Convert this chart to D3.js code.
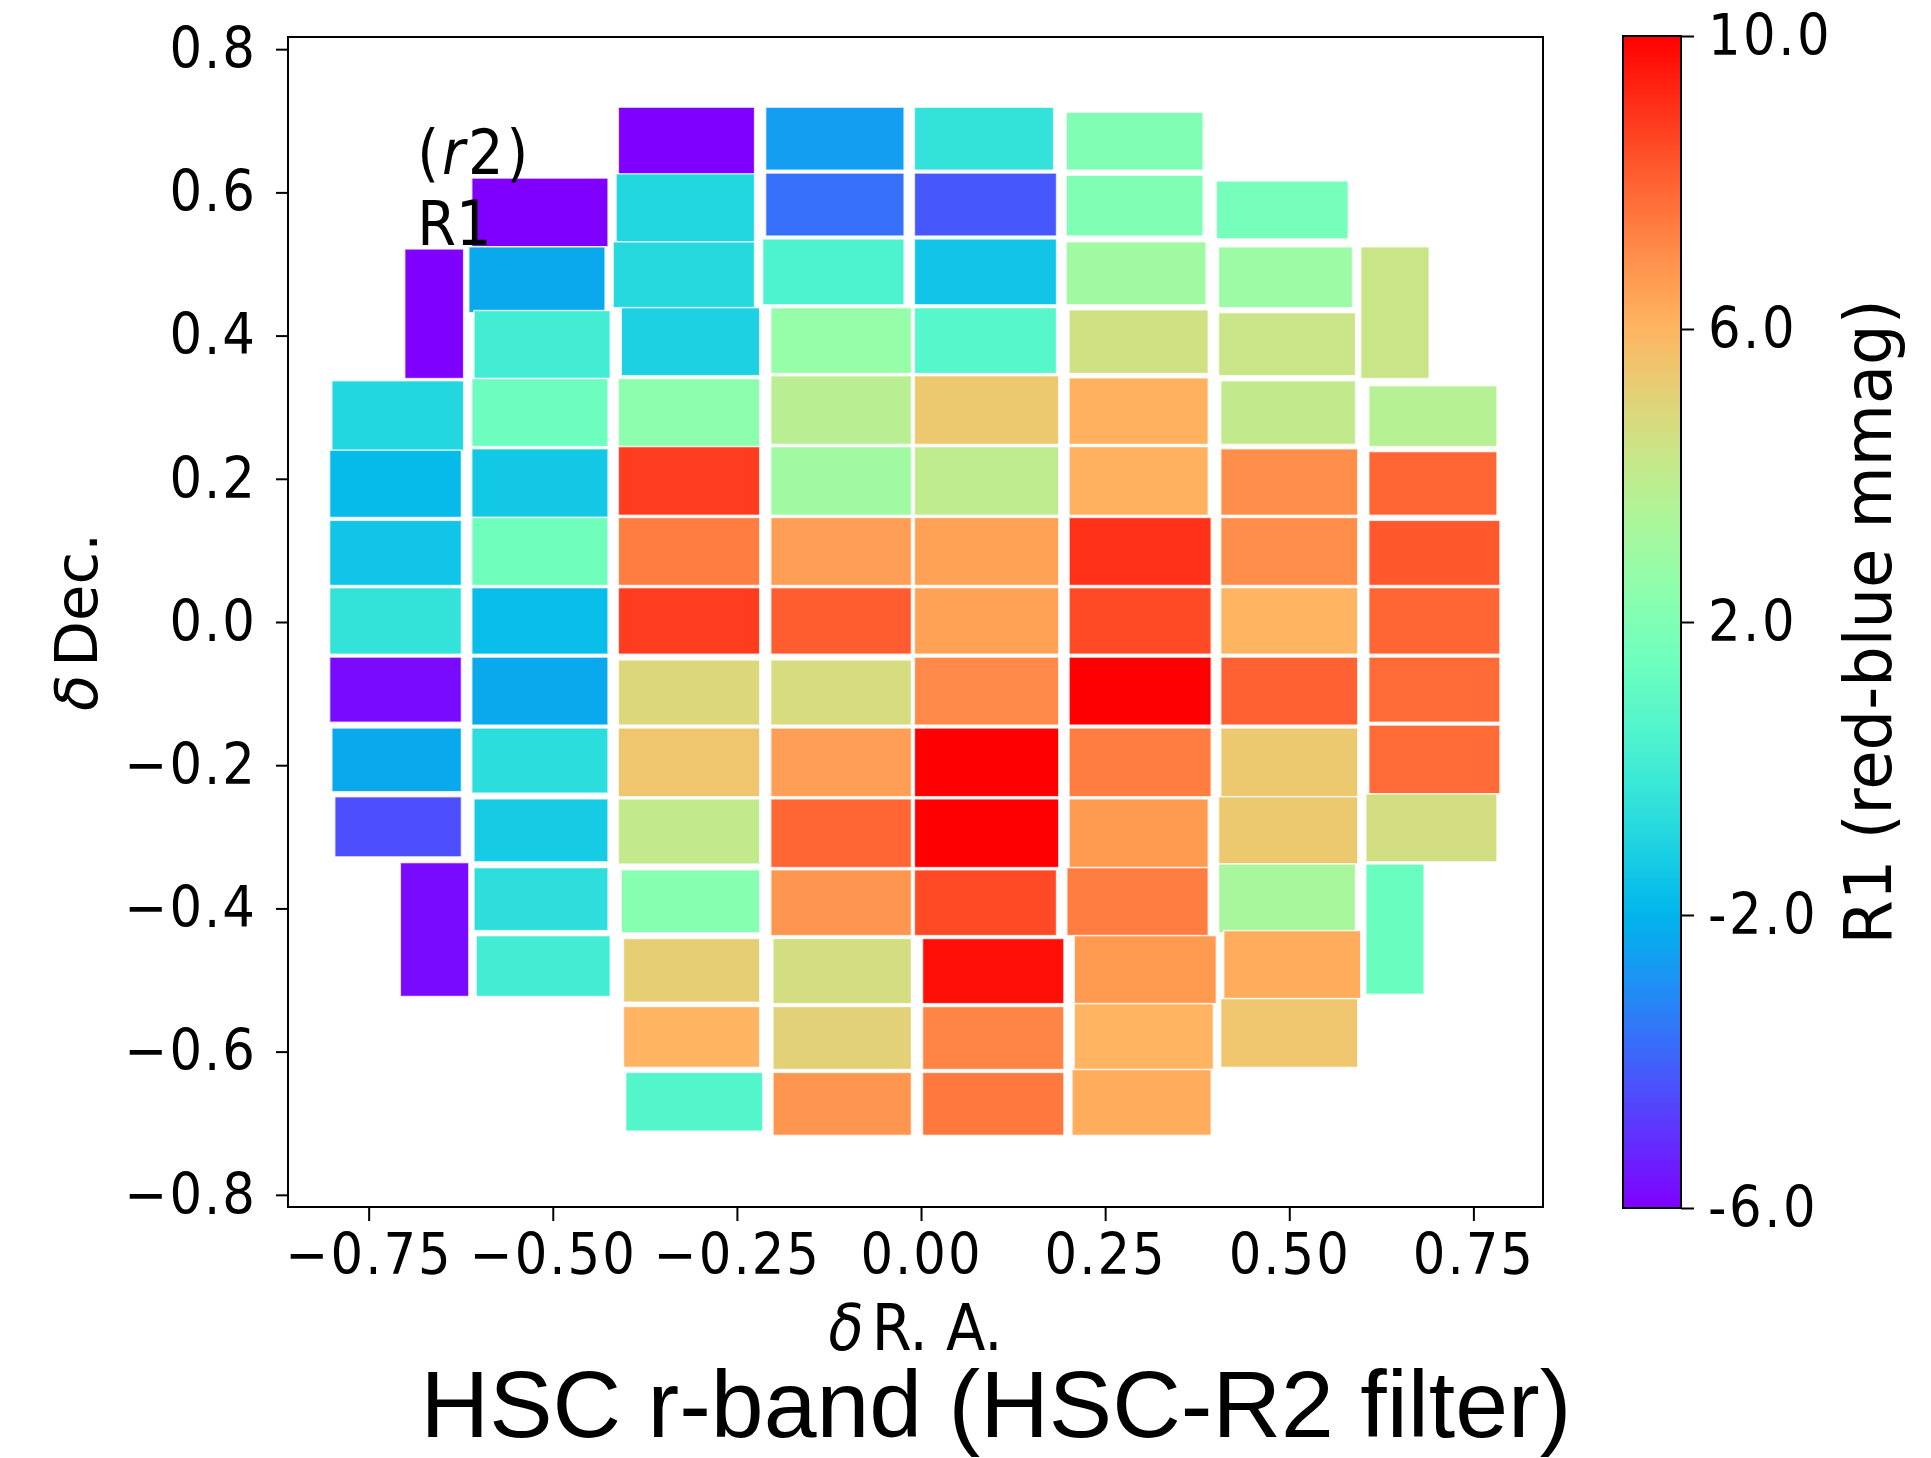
<!DOCTYPE html>
<html>
<head>
<meta charset="utf-8">
<script src="https://cdn.jsdelivr.net/npm/d3@7"></script>
<style>
  html, body { margin: 0; padding: 0; background: #fff; }
  svg { display: block; }
  .tick text, .lbl { font-family: "DejaVu Sans Condensed", "DejaVu Sans", sans-serif; font-stretch: condensed; fill: #000; }
</style>
</head>
<body>
<svg id="chart" width="1931" height="1458"></svg>
<script>
// CCD footprints (delta R.A. / delta Dec., degrees) and R1 colour term (mmag),
// listed column by column from east to west, top to bottom.
const raMin = [
  -0.701, -0.800, -0.803, -0.803, -0.803, -0.803, -0.800, -0.796, -0.707,
  -0.610, -0.614, -0.607, -0.610, -0.610, -0.610, -0.610, -0.610, -0.610, -0.607, -0.607, -0.604,
  -0.411, -0.414, -0.418, -0.407, -0.411, -0.411, -0.411, -0.411, -0.411, -0.411, -0.411, -0.407, -0.404, -0.404, -0.401,
  -0.211, -0.211, -0.215, -0.204, -0.204, -0.204, -0.204, -0.204, -0.204, -0.204, -0.204, -0.204, -0.201, -0.201, -0.201,
  -0.009, -0.009, -0.009, -0.009, -0.009, -0.009, -0.009, -0.009, -0.009, -0.009, -0.009, -0.009, 0.002, 0.002, 0.002,
  0.197, 0.197, 0.197, 0.201, 0.201, 0.201, 0.201, 0.201, 0.201, 0.201, 0.201, 0.198, 0.208, 0.208, 0.205,
  0.401, 0.404, 0.404, 0.407, 0.407, 0.407, 0.407, 0.407, 0.407, 0.404, 0.404, 0.411, 0.407,
  0.597, 0.608, 0.608, 0.608, 0.608, 0.608, 0.608, 0.604, 0.604
];
const raMax = [
  -0.621, -0.621, -0.624, -0.624, -0.624, -0.624, -0.624, -0.624, -0.614,
  -0.425, -0.429, -0.422, -0.425, -0.425, -0.425, -0.425, -0.425, -0.425, -0.425, -0.425, -0.422,
  -0.226, -0.226, -0.226, -0.219, -0.219, -0.219, -0.219, -0.219, -0.219, -0.219, -0.219, -0.219, -0.219, -0.219, -0.215,
  -0.023, -0.023, -0.023, -0.013, -0.013, -0.013, -0.013, -0.013, -0.013, -0.013, -0.013, -0.013, -0.013, -0.013, -0.013,
  0.180, 0.184, 0.184, 0.184, 0.187, 0.187, 0.187, 0.187, 0.187, 0.187, 0.187, 0.184, 0.194, 0.194, 0.194,
  0.383, 0.383, 0.387, 0.390, 0.390, 0.390, 0.394, 0.394, 0.394, 0.394, 0.390, 0.390, 0.401, 0.397, 0.394,
  0.580, 0.586, 0.590, 0.590, 0.593, 0.593, 0.593, 0.593, 0.593, 0.593, 0.590, 0.597, 0.593,
  0.690, 0.782, 0.782, 0.786, 0.786, 0.786, 0.786, 0.782, 0.683
];
const decMin = [
  0.340, 0.239, 0.146, 0.051, -0.045, -0.140, -0.237, -0.328, -0.523,
  0.524, 0.432, 0.340, 0.245, 0.146, 0.051, -0.045, -0.144, -0.239, -0.335, -0.431, -0.523,
  0.624, 0.531, 0.439, 0.344, 0.245, 0.149, 0.051, -0.045, -0.144, -0.244, -0.338, -0.434, -0.531, -0.622, -0.711,
  0.631, 0.539, 0.443, 0.347, 0.248, 0.149, 0.051, -0.045, -0.144, -0.244, -0.343, -0.438, -0.533, -0.625, -0.717,
  0.631, 0.539, 0.443, 0.347, 0.248, 0.149, 0.051, -0.045, -0.144, -0.244, -0.343, -0.438, -0.533, -0.625, -0.717,
  0.631, 0.539, 0.443, 0.347, 0.248, 0.149, 0.051, -0.045, -0.144, -0.244, -0.343, -0.438, -0.533, -0.625, -0.717,
  0.535, 0.439, 0.344, 0.248, 0.149, 0.051, -0.045, -0.144, -0.244, -0.338, -0.434, -0.526, -0.622,
  0.340, 0.245, 0.149, 0.051, -0.045, -0.140, -0.240, -0.335, -0.520
];
const decMax = [
  0.521, 0.337, 0.240, 0.142, 0.048, -0.049, -0.148, -0.244, -0.336,
  0.620, 0.524, 0.435, 0.340, 0.242, 0.146, 0.048, -0.049, -0.148, -0.247, -0.343, -0.438,
  0.719, 0.626, 0.531, 0.439, 0.340, 0.245, 0.146, 0.048, -0.053, -0.148, -0.247, -0.346, -0.442, -0.537, -0.629,
  0.719, 0.627, 0.535, 0.439, 0.344, 0.245, 0.146, 0.048, -0.053, -0.148, -0.247, -0.346, -0.442, -0.537, -0.629,
  0.719, 0.627, 0.535, 0.439, 0.344, 0.245, 0.146, 0.048, -0.049, -0.148, -0.247, -0.346, -0.442, -0.537, -0.629,
  0.712, 0.624, 0.531, 0.436, 0.341, 0.245, 0.146, 0.048, -0.049, -0.148, -0.247, -0.343, -0.438, -0.533, -0.625,
  0.616, 0.524, 0.432, 0.337, 0.242, 0.146, 0.048, -0.049, -0.148, -0.244, -0.338, -0.431, -0.526,
  0.524, 0.330, 0.238, 0.142, 0.048, -0.049, -0.144, -0.240, -0.338
];
const r1Value = [
  -6.0, -0.9, -1.8, -1.5, -0.4, -5.8, -2.3, -4.4, -5.8,
  -6.0, -2.3, 0.1, 1.4, -1.4, 1.5, -1.75, -2.3, -0.65, -1.3, -0.6, 0.1,
  -6.0, -0.9, -0.8, -1.1, 2.4, 8.8, 7.4, 8.8, 4.9, 5.5, 4.1, 2.2, 5.2, 6.0, 0.6,
  -2.6, -3.7, 0.4, 2.7, 3.8, 3.0, 6.6, 8.1, 4.7, 6.6, 7.9, 6.8, 4.6, 5.1, 6.8,
  -0.4, -4.2, -1.5, 0.7, 5.4, 4.0, 6.5, 6.5, 7.1, 10.0, 10.0, 8.5, 9.7, 7.2, 7.5,
  2.0, 2.0, 3.0, 4.5, 6.1, 6.1, 9.0, 8.5, 10.0, 7.4, 6.7, 7.4, 6.7, 6.0, 6.2,
  1.7, 2.9, 4.3, 4.1, 7.0, 7.0, 6.0, 8.0, 5.4, 5.4, 3.3, 6.2, 5.5,
  4.3, 3.7, 7.9, 8.2, 7.9, 7.8, 7.8, 4.6, 1.3
];

// Axis ticks and limits
const raTicks = [-0.75, -0.50, -0.25, 0.00, 0.25, 0.50, 0.75];
const decTicks = [0.8, 0.6, 0.4, 0.2, 0.0, -0.2, -0.4, -0.6, -0.8];
const raLimits = [-0.8595, 0.8445];
const decLimits = [-0.817, 0.817];
const colorLimits = [-6, 10];
const colorTicks = [10, 6, 2, -2, -6];

// Annotation anchors (data coordinates)
const bandLabel = { ra: -0.684, dec: 0.626 };
const termLabel = { ra: -0.684, dec: 0.527 };

const cells = r1Value.map((v, i) => ({
  x0: raMin[i], x1: raMax[i], y0: decMin[i], y1: decMax[i], v
}));

// matplotlib "rainbow" colormap
function rainbow(t) {
  t = Math.max(0, Math.min(1, t));
  const r = Math.min(1, Math.abs(2 * t - 0.5));
  const g = Math.sin(Math.PI * t);
  const b = Math.cos(Math.PI * t / 2);
  return d3.rgb(Math.round(r * 255), Math.round(g * 255), Math.round(b * 255)).formatHex();
}

const svg = d3.select("#chart");
const plot = { left: 288, right: 1543, top: 37, bottom: 1207 };
const cbar = { left: 1623, right: 1681, top: 36, bottom: 1208 };

const x = d3.scaleLinear().domain(raLimits).range([plot.left, plot.right]);
const y = d3.scaleLinear().domain(decLimits).range([plot.bottom, plot.top]);
const color = d3.scaleSequential(rainbow).domain(colorLimits);

// CCD cells
svg.append("g")
  .selectAll("rect")
  .data(cells)
  .join("rect")
  .attr("x", d => x(d.x0))
  .attr("y", d => y(d.y1))
  .attr("width", d => x(d.x1) - x(d.x0))
  .attr("height", d => y(d.y0) - y(d.y1))
  .attr("fill", d => color(d.v))
  .attr("stroke", "#ffffff")
  .attr("stroke-opacity", 0.75)
  .attr("stroke-width", 1.5);

// Axes
const fmtDec = d => d3.format(".1f")(d).replace("-", "\u2212");
const fmtRa = d => d3.format(".2f")(d).replace("-", "\u2212");

const gy = svg.append("g")
  .attr("transform", `translate(${plot.left},0)`)
  .call(d3.axisLeft(y).tickValues(decTicks).tickFormat(fmtDec).tickSize(12).tickPadding(19));
const gx = svg.append("g")
  .attr("transform", `translate(0,${plot.bottom})`)
  .call(d3.axisBottom(x).tickValues(raTicks).tickFormat(fmtRa).tickSize(14).tickPadding(13));

[gx, gy].forEach(g => {
  g.select(".domain").remove();
  g.selectAll(".tick line").attr("stroke", "#000").attr("stroke-width", 2);
  g.selectAll(".tick text").attr("font-size", 57).attr("letter-spacing", 2);
});

svg.append("rect")
  .attr("x", plot.left).attr("y", plot.top)
  .attr("width", plot.right - plot.left).attr("height", plot.bottom - plot.top)
  .attr("fill", "none").attr("stroke", "#000").attr("stroke-width", 2);

// Axis titles
svg.append("text").attr("class", "lbl")
  .attr("x", (plot.left + plot.right) / 2).attr("y", 1350)
  .attr("text-anchor", "middle").attr("font-size", 64)
  .html('<tspan font-style="italic">\u03b4</tspan><tspan dx="8">R. A.</tspan>');

svg.append("text").attr("class", "lbl")
  .attr("transform", `translate(97,${(plot.top + plot.bottom) / 2}) scale(0.9,1) rotate(-90)`)
  .attr("text-anchor", "middle").attr("font-size", 66)
  .style("font-stretch", "normal")
  .html('<tspan font-style="italic">\u03b4</tspan><tspan dx="8">Dec.</tspan>');

// Annotations
svg.append("text").attr("class", "lbl")
  .attr("x", x(bandLabel.ra)).attr("y", y(bandLabel.dec))
  .attr("font-size", 62).attr("letter-spacing", 3)
  .html('(<tspan font-style="italic">r</tspan>2)');

svg.append("text").attr("class", "lbl")
  .attr("x", x(termLabel.ra)).attr("y", y(termLabel.dec)).attr("font-size", 62)
  .text("R1");

// Colour bar
const defs = svg.append("defs");
const grad = defs.append("linearGradient")
  .attr("id", "cbgrad").attr("x1", 0).attr("y1", 1).attr("x2", 0).attr("y2", 0);
d3.range(0, 1.0001, 0.02).forEach(t => {
  grad.append("stop").attr("offset", t).attr("stop-color", rainbow(t));
});
svg.append("rect")
  .attr("x", cbar.left).attr("y", cbar.top)
  .attr("width", cbar.right - cbar.left).attr("height", cbar.bottom - cbar.top)
  .attr("fill", "url(#cbgrad)").attr("stroke", "#000").attr("stroke-width", 2);

const cScale = d3.scaleLinear().domain(colorLimits).range([cbar.bottom, cbar.top]);
const fmtBar = d => d.toFixed(1);
const gc = svg.append("g")
  .attr("transform", `translate(${cbar.right},0)`)
  .call(d3.axisRight(cScale).tickValues(colorTicks).tickFormat(fmtBar).tickSize(13).tickPadding(14));
gc.select(".domain").remove();
gc.selectAll(".tick line").attr("stroke", "#000").attr("stroke-width", 2);
gc.selectAll(".tick text").attr("font-size", 57).attr("letter-spacing", 2.5);

svg.append("text").attr("class", "lbl")
  .attr("transform", `translate(1891,${(cbar.top + cbar.bottom) / 2}) scale(0.92,1) rotate(-90)`)
  .attr("text-anchor", "middle").attr("font-size", 71)
  .style("font-stretch", "normal")
  .text("R1 (red-blue mmag)");

// Figure caption
svg.append("text")
  .attr("x", 996).attr("y", 1437)
  .attr("text-anchor", "middle")
  .attr("font-family", "'Liberation Sans', Arial, Helvetica, sans-serif")
  .attr("font-size", 95)
  .attr("fill", "#000")
  .text("HSC r-band (HSC-R2 filter)");
</script>
</body>
</html>
